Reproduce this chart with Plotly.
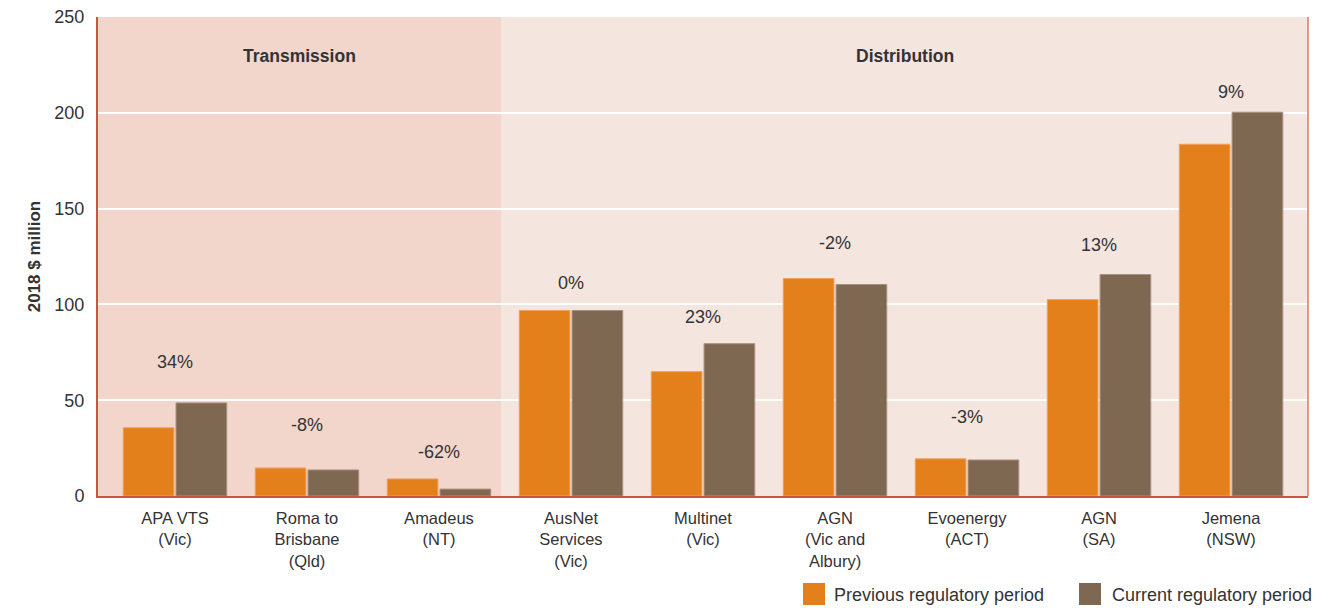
import plotly.graph_objects as go

categories = ["APA VTS<br>(Vic)", "Roma to<br>Brisbane<br>(Qld)", "Amadeus<br>(NT)",
              "AusNet<br>Services<br>(Vic)", "Multinet<br>(Vic)", "AGN<br>(Vic and<br>Albury)",
              "Evoenergy<br>(ACT)", "AGN<br>(SA)", "Jemena<br>(NSW)"]
previous = [35.6, 14.6, 8.9, 96.8, 64.9, 113.5, 19.4, 102.5, 183.6]
current = [48.6, 13.6, 3.6, 96.8, 79.5, 110.4, 18.8, 115.6, 200.3]
change_labels = ["34%", "-8%", "-62%", "0%", "23%", "-2%", "-3%", "13%", "9%"]
label_heights = [70, 37, 23, 111, 93.5, 132, 41, 131, 211]
series_names = ["Previous regulatory period", "Current regulatory period"]
section_names = ["Transmission", "Distribution"]

ORANGE = "#E3801C"
BROWN = "#7F6852"
TXT = "#333333"
FONT = "Liberation Sans, Arial, sans-serif"

x = list(range(len(categories)))
X0, X1, XB = -0.583, 8.583, 2.47

fig = go.Figure()
fig.add_trace(go.Bar(x=x, y=previous, name=series_names[0], marker_color=ORANGE,
                     marker_line=dict(color="#EFA060", width=1), showlegend=False))
fig.add_trace(go.Bar(x=x, y=current, name=series_names[1], marker_color=BROWN,
                     marker_line=dict(color="#A89080", width=1), showlegend=False))

shapes = [
    dict(type="rect", xref="x", yref="paper", x0=X0, x1=XB, y0=0, y1=1,
         fillcolor="#F2D6CC", line_width=0, layer="below"),
    dict(type="rect", xref="x", yref="paper", x0=XB, x1=X1, y0=0, y1=1,
         fillcolor="#F4E5DF", line_width=0, layer="below"),
    dict(type="line", xref="paper", yref="paper", x0=1, x1=1, y0=0, y1=1,
         line=dict(color="#D07F62", width=1.5)),
]
annotations = []
for xi, lab, h in zip(x, change_labels, label_heights):
    annotations.append(dict(x=xi, y=h, xref="x", yref="y", text=lab, showarrow=False,
                            font=dict(size=18, color=TXT, family=FONT)))
annotations.append(dict(x=(X0 + XB) / 2, y=229.5, xref="x", yref="y", text="<b>" + section_names[0] + "</b>",
                        showarrow=False, font=dict(size=17.5, color=TXT, family=FONT)))
annotations.append(dict(x=(XB + X1) / 2, y=229.5, xref="x", yref="y", text="<b>" + section_names[1] + "</b>",
                        showarrow=False, font=dict(size=17.5, color=TXT, family=FONT)))

# custom legend (pixel positions converted to paper coords)
W, H = 1340, 608
ml, mr, mt, mb = 98, 32, 17, 112
pw, ph = W - ml - mr, H - mt - mb
def px(xp):
    return (xp - ml) / pw
def py(yp):
    return (H - mb - yp) / ph
for sx, tx, col, name in [(803, 832, ORANGE, series_names[0]), (1079, 1110, BROWN, series_names[1])]:
    shapes.append(dict(type="rect", xref="paper", yref="paper", x0=px(sx), x1=px(sx + 22),
                       y0=py(583), y1=py(605), fillcolor=col, line_width=0))
    annotations.append(dict(x=px(tx), y=py(595), xref="paper", yref="paper", text=name,
                            xanchor="left", yanchor="middle", showarrow=False,
                            font=dict(size=18, color=TXT, family=FONT)))

fig.update_layout(
    width=W, height=H,
    margin=dict(l=ml, r=mr, t=mt, b=mb, autoexpand=False),
    paper_bgcolor="white", plot_bgcolor="rgba(0,0,0,0)",
    barmode="group", bargap=0.2, bargroupgap=0.04,
    font=dict(family=FONT, color=TXT, size=17),
    shapes=shapes, annotations=annotations,
    xaxis=dict(range=[X0, X1], tickmode="array", tickvals=x, ticktext=categories,
               showgrid=False, zeroline=False, showline=True, linecolor="#C8553D", linewidth=2,
               ticks="", ticklabelstandoff=6, tickfont=dict(size=16.5, color=TXT), automargin=False),
    yaxis=dict(range=[0, 250], tickvals=[0, 50, 100, 150, 200, 250], showgrid=True,
               gridcolor="white", gridwidth=1.5, zeroline=False, showline=True,
               linecolor="#C8553D", linewidth=2, ticks="", ticklabelstandoff=8,
               tickfont=dict(size=18, color=TXT), automargin=False,
               title=dict(text="<b>2018 $ million</b>", font=dict(size=17, color=TXT), standoff=9)),
)

fig.write_html("out.html")
